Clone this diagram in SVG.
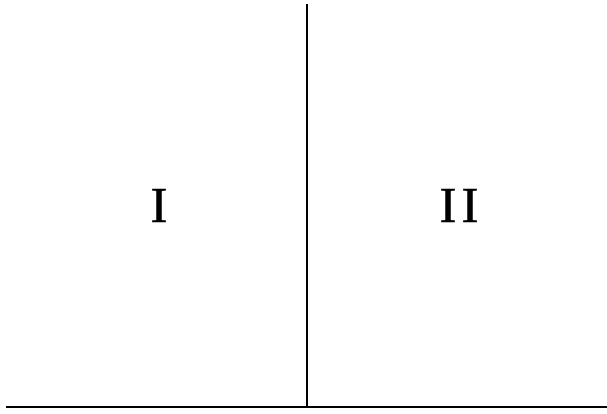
<svg xmlns="http://www.w3.org/2000/svg" width="607" height="414" viewBox="0 0 607 414">
<style>
.ln{stroke:#000;stroke-width:2;fill:none}
.lb{font-family:"Liberation Serif","Times New Roman",serif;font-size:51px;fill:#000;stroke:#000;stroke-width:0.6;text-anchor:middle}
</style>
<rect width="607" height="414" fill="#fff"/>
<g id="connectors">
<line class="ln" x1="307" y1="4" x2="307" y2="407"/>
<line class="ln" x1="6" y1="407" x2="607" y2="407"/>
</g>
<g id="region-I"><text class="lb" x="159" y="222">I</text></g>
<g id="region-II"><text class="lb" x="461.5" y="222" letter-spacing="5">II</text></g>
</svg>
